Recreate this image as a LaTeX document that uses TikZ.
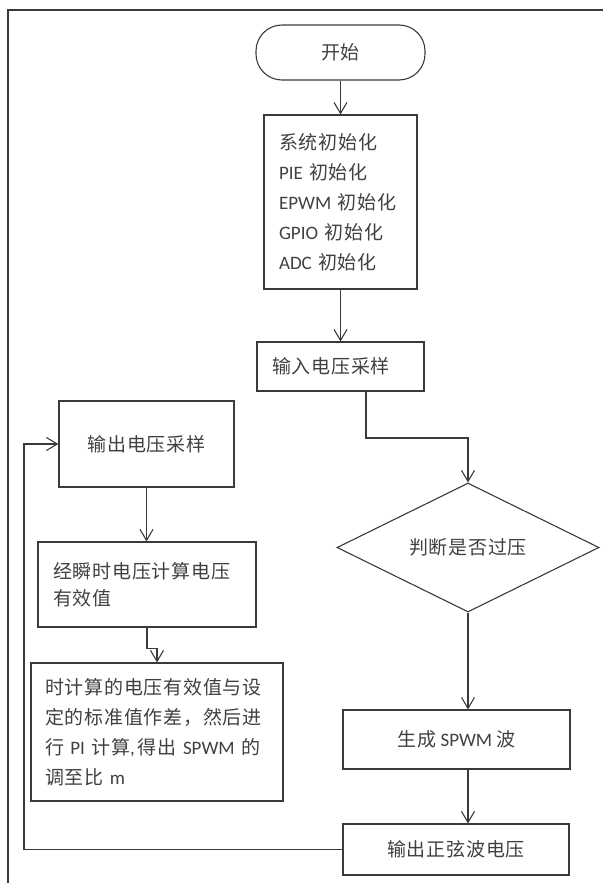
\documentclass[tikz,border=0pt]{standalone}
\usepackage{fontspec}
\setmainfont{Carlito}
\newfontfamily\cjk[LetterSpace=4]{Noto Sans CJK SC}
\usetikzlibrary{arrows.meta,shapes.geometric}
\definecolor{linec}{HTML}{3A3A3A}
\definecolor{textc}{HTML}{404040}
\begin{document}
\begin{tikzpicture}[x=1pt,y=-1pt,
  base/.style={draw=linec,line width=1.1pt,text=textc,inner sep=0pt,font=\fontsize{19}{30}\selectfont},
  box/.style={base,rectangle,align=center},
  lbox/.style={base,rectangle,align=left},
  arr/.style={draw=linec,line width=1.1pt,-{Straight Barb[length=11pt,width=13pt,line width=1.1pt]}},
  frame/.style={draw=linec,line width=1.8pt}]
\useasboundingbox (0,0) rectangle (603,883);
\draw[frame] (8,883) -- (8,10) -- (603,10);
\node[box,rounded corners=26pt,minimum width=169pt,minimum height=55pt] (st) at (340.5,52.5) {{\cjk 开始}};
\node[lbox,minimum height=174pt,text width=123pt,inner xsep=15pt] (ini) at (340.5,202)
  {{\cjk 系统初始化}\\ PIE {\cjk 初始化}\\ EPWM {\cjk 初始化}\\ GPIO {\cjk 初始化}\\ ADC {\cjk 初始化}};
\node[lbox,minimum height=49pt,text width=137pt,inner xsep=15pt] (inp) at (340.5,366.5) {{\cjk 输入电压采样}};
\node[box,minimum width=175pt,minimum height=86pt] (ov) at (146.5,444) {{\cjk 输出电压采样}};
\node[lbox,minimum height=85pt,text width=188pt,inner xsep=15pt,font=\fontsize{19}{27}\selectfont] (ev) at (147,584.5)
  {{\cjk 经瞬时电压计算电压}\\ {\cjk 有效值}};
\node[lbox,minimum height=138pt,text width=224pt,inner xsep=14pt] (calc) at (157,732)
  {{\cjk 时计算的电压有效值与设}\\ {\cjk 定的标准值作差，然后进}\\ {\cjk 行} PI {\cjk 计算},\,{\cjk 得出} SPWM {\cjk 的}\\ {\cjk 调至比} m};
\node[base,diamond,aspect=2.03,minimum width=262pt,minimum height=129pt] (dia) at (468,547.5) {{\cjk 判断是否过压}};
\node[box,minimum width=227pt,minimum height=59pt] (spw) at (456.5,739.5) {{\cjk 生成} SPWM {\cjk 波}};
\node[box,minimum width=226pt,minimum height=51pt] (out) at (456,849.5) {{\cjk 输出正弦波电压}};
\draw[arr] (st.south) -- (ini.north);
\draw[arr] (ini.south) -- (inp.north);
\coordinate (k1) at (366,438);
\draw[arr] (inp.south -| k1) -- (k1) -| (dia.north);
\draw[arr] (dia.south) -- (dia.south |- spw.north);
\draw[arr] (dia.south |- spw.south) -- (dia.south |- out.north);
\coordinate (fb) at (24,849.5);
\draw[arr] (out.west) -- (fb) |- (ov.west);
\draw[arr] (ov.south) -- (ov.south |- ev.north);
\draw[arr] (ev.south) -- ++(0,21) -| (calc.north);
\end{tikzpicture}
\end{document}
